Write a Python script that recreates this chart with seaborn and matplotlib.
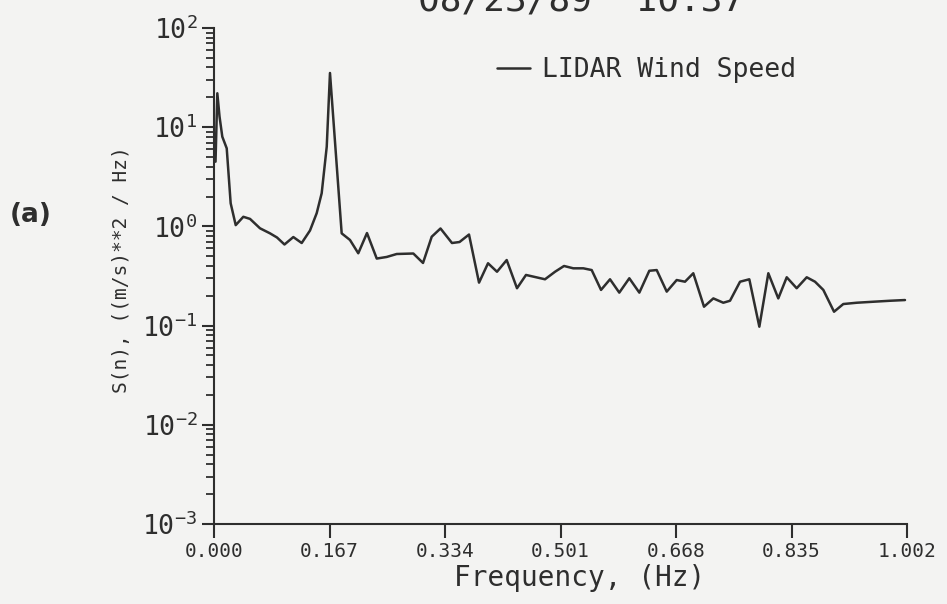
import numpy as np
import pandas as pd
import matplotlib
matplotlib.use("Agg")
import matplotlib.pyplot as plt
import seaborn as sns
from matplotlib.ticker import LogLocator, FixedLocator, NullFormatter

# ---- data ----
freq = [0.0022, 0.0048, 0.0080, 0.0120, 0.0184, 0.0241, 0.0314, 0.0424, 0.0521, 0.0665,
        0.0810, 0.0911, 0.1019, 0.1147, 0.1268, 0.1388, 0.1485, 0.1557, 0.1630, 0.1677,
        0.1846, 0.1966, 0.2086, 0.2212, 0.2353, 0.2497, 0.2642, 0.2882, 0.3022, 0.3148,
        0.3275, 0.3441, 0.3550, 0.3687, 0.3832, 0.3962, 0.4092, 0.4232, 0.4381, 0.4511,
        0.4641, 0.4786, 0.4931, 0.5061, 0.5195, 0.5340, 0.5461, 0.5596, 0.5726, 0.5860,
        0.6005, 0.6150, 0.6294, 0.6401, 0.6546, 0.6690, 0.6810, 0.6930, 0.7085, 0.7220,
        0.7364, 0.7461, 0.7606, 0.7740, 0.7885, 0.8015, 0.8159, 0.8281, 0.8425, 0.8570,
        0.8690, 0.8810, 0.8965, 0.9099, 0.9293, 0.9533, 0.9774, 0.9991]
spectrum = [4.49, 21.98, 12.8, 8.02, 6.12, 1.71, 1.03, 1.25, 1.19, 0.957,
            0.851, 0.773, 0.657, 0.781, 0.680, 0.909, 1.36, 2.16, 6.36, 35.2,
            0.851, 0.730, 0.536, 0.857, 0.474, 0.492, 0.527, 0.533, 0.428, 0.787,
            0.953, 0.680, 0.696, 0.828, 0.271, 0.425, 0.349, 0.458, 0.238, 0.324,
            0.309, 0.293, 0.349, 0.399, 0.378, 0.378, 0.363, 0.229, 0.293, 0.215,
            0.300, 0.215, 0.357, 0.363, 0.220, 0.288, 0.277, 0.337, 0.155, 0.188,
            0.170, 0.178, 0.277, 0.293, 0.0975, 0.337, 0.188, 0.307, 0.238, 0.307,
            0.277, 0.229, 0.138, 0.165, 0.170, 0.174, 0.178, 0.181]
xticks = [0.000, 0.167, 0.334, 0.501, 0.668, 0.835, 1.002]
xtick_labels = ["0.000", "0.167", "0.334", "0.501", "0.668", "0.835", "1.002"]
ydecades = [1e-3, 1e-2, 1e-1, 1e0, 1e1, 1e2]
ytick_labels = [r"$\mathregular{10^{-3}}$", r"$\mathregular{10^{-2}}$", r"$\mathregular{10^{-1}}$",
                r"$\mathregular{10^{0}}$", r"$\mathregular{10^{1}}$", r"$\mathregular{10^{2}}$"]
series_name = "LIDAR Wind Speed"
title_text = "08/23/89  10:37"
xlabel_text = "Frequency, (Hz)"
ylabel_text = "S(n), ((m/s)**2 / Hz)"
panel_text = "(a)"

df = pd.DataFrame({"freq": freq, "S": spectrum})

sns.set_style("ticks")
MONO = ["DejaVu Sans Mono", "DejaVu Sans"]
INK = "#2e2e2e"
BG = "#f3f3f2"
plt.rcParams["font.family"] = MONO
plt.rcParams["text.color"] = INK
plt.rcParams["axes.edgecolor"] = INK
plt.rcParams["xtick.color"] = INK
plt.rcParams["ytick.color"] = INK

fig = plt.figure(figsize=(9.47, 6.04), dpi=100, facecolor=BG)
ax = fig.add_axes([214 / 947, 1 - 524 / 604, 693 / 947, 496 / 604])
ax.set_facecolor(BG)

sns.lineplot(data=df, x="freq", y="S", sort=False, estimator=None, ax=ax,
             color=INK, linewidth=1.8, label=series_name)

ax.set_yscale("log")
ax.set_xlim(0, 1.002)
ax.set_ylim(1e-3, 1e2)

sns.despine(ax=ax, top=True, right=True)
for s in ("left", "bottom"):
    ax.spines[s].set_linewidth(1.5)

ax.xaxis.set_major_locator(FixedLocator(xticks))
ax.set_xticklabels(xtick_labels, fontsize=14)
ax.yaxis.set_major_locator(FixedLocator(ydecades))
ax.set_yticklabels(ytick_labels, fontsize=19)
ax.yaxis.set_minor_locator(LogLocator(base=10, subs=np.arange(2, 10), numticks=20))
ax.yaxis.set_minor_formatter(NullFormatter())
ax.tick_params(axis="x", direction="out", length=10, width=1.5, pad=3)
ax.tick_params(axis="y", which="major", direction="out", length=9, width=1.5, pad=3)
ax.tick_params(axis="y", which="minor", direction="out", length=6, width=1.3)
ax.set_xlabel("")
ax.set_ylabel("")

leg = ax.legend(loc="center left", bbox_to_anchor=(0.408, 0.915), frameon=False,
                borderpad=0, borderaxespad=0, handlelength=1.25, handletextpad=0.45,
                prop={"family": MONO, "size": 19})
for t in leg.get_texts():
    t.set_color(INK)

fig.text(580 / 947, 1 - 578 / 604, xlabel_text, ha="center", va="center", fontsize=20, color=INK)
fig.text(122 / 947, 1 - 270 / 604, ylabel_text, ha="center", va="center", rotation=90,
         fontsize=14, color=INK)
fig.text(10 / 947, 1 - 215 / 604, panel_text, ha="left", va="center", fontsize=19,
         fontweight="bold", family=["DejaVu Sans"], color=INK)
fig.text(581 / 947, 1 - 11 / 604, title_text, ha="center", va="baseline", fontsize=26, color=INK)

fig.savefig("out.png", dpi=100, facecolor=BG)
